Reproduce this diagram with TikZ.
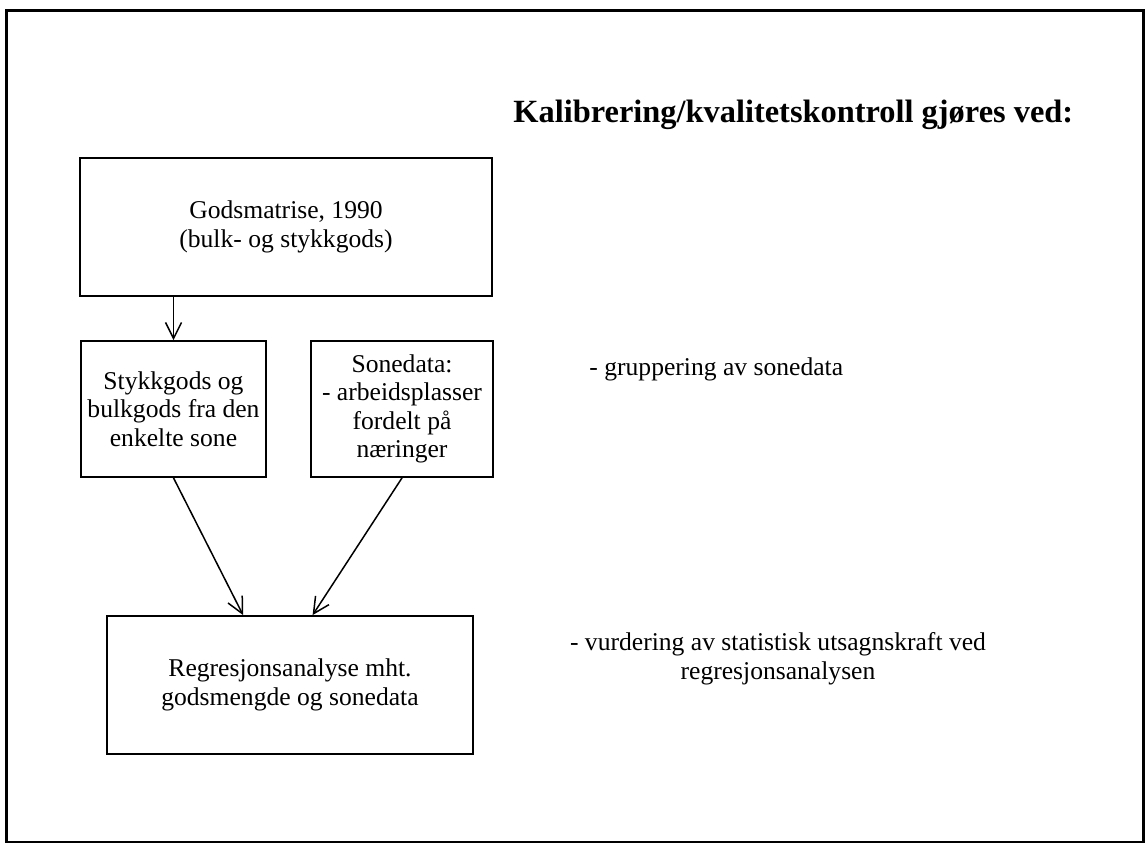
\documentclass[tikz,border=0pt]{standalone}
\usepackage{fontspec}
\setmainfont{Liberation Serif}
\usetikzlibrary{arrows.meta}
\begin{document}
\begin{tikzpicture}[x=0.5pt,y=-0.5pt,
  box/.style={draw,line width=0.9pt,inner sep=0pt,align=center,
    font=\fontsize{12.8}{14.2}\selectfont},
  flow/.style={line width=0.75pt,-{Straight Barb[length=8pt,width=8pt]}},
  note/.style={font=\fontsize{12.8}{14.2}\selectfont,inner sep=0pt},
  heading/.style={font=\bfseries\fontsize{16.2}{19}\selectfont,inner sep=0pt}]
\useasboundingbox (0,0) rectangle (1147,846);
% outer frame
\draw[line width=1.3pt] (6.5,10.5) rectangle (1143.5,842);

% heading
\node[heading,anchor=base west] (title) at (513,122) {Kalibrering/kvalitetskontroll gjøres ved:};

% flow boxes
\node[box,minimum width=206pt,minimum height=69pt] (gods) at (286,227)
  {Godsmatrise, 1990\\(bulk- og stykkgods)};
\node[box,minimum width=92.5pt,minimum height=68pt] (sone) at (173.5,409)
  {Stykkgods og\\bulkgods fra den\\enkelte sone};
\node[box,minimum width=91pt,minimum height=68pt] (data) at (402,409)
  {Sonedata:\\- arbeidsplasser\\fordelt på\\næringer};
\node[box,minimum width=183pt,minimum height=69pt] (regr) at (290,685)
  {Regresjonsanalyse mht.\\godsmengde og sonedata};

% arrow entry points on the regression box
\path (regr.north west) ++(137,0) coordinate (in1);
\path (regr.north west) ++(206.5,0) coordinate (in2);

% connectors
\draw[flow] (sone.north |- gods.south) -- (sone.north);
\draw[flow] (sone.south) -- (in1);
\draw[flow] (data.south) -- (in2);

% checks listed beside the flow
\node[note,anchor=base west] (grp) at (589,375) {- gruppering av sonedata};
\node[note,anchor=base,align=center] (vurd) at (778,679)
  {- vurdering av statistisk utsagnskraft ved\\regresjonsanalysen};
\end{tikzpicture}
\end{document}
